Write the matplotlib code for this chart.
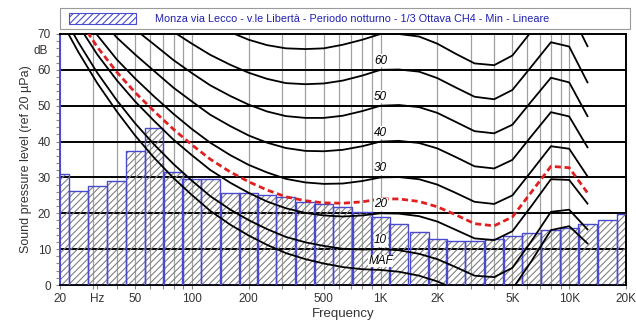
import matplotlib.pyplot as plt
from matplotlib.patches import Rectangle

# bande 1/3 ottava e livelli misurati (dB)
bande = [20, 25, 31.5, 40, 50, 63, 80, 100, 125, 160, 200, 250, 315, 400, 500, 630,
         800, 1000, 1250, 1600, 2000, 2500, 3150, 4000, 5000, 6300, 8000, 10000,
         12500, 16000, 20000]
livelli = [31.0, 26.1, 27.6, 29.0, 37.5, 43.7, 31.6, 29.6, 29.6, 25.7, 25.6, 25.1,
           24.6, 23.2, 22.6, 21.7, 20.4, 18.9, 17.0, 14.8, 12.8, 12.4, 12.3, 12.8,
           13.7, 14.6, 15.4, 16.0, 16.9, 18.0, 19.9]

# curve isofoniche, 20 Hz - 12.5 kHz
freq_iso = bande[:29]
maf = [74.3, 65.0, 56.3, 48.4, 41.7, 35.5, 29.8, 25.1, 20.7, 16.8, 13.8, 11.2, 8.9,
       7.2, 6.0, 5.0, 4.4, 4.2, 3.7, 2.6, 1.0, -1.2, -3.6, -3.9, -1.1, 6.6, 15.3,
       16.4, 11.6]
phon10 = [76.8, 67.7, 59.2, 51.5, 45.1, 39.2, 33.7, 29.1, 24.8, 21.0, 18.1, 15.6,
          13.4, 11.9, 10.9, 10.1, 9.9, 10.0, 9.7, 8.7, 7.2, 5.0, 2.6, 2.2, 4.8, 12.2,
          20.4, 21.0, 15.5]
phon20 = [81.3, 72.5, 64.3, 57.1, 51.2, 45.8, 40.5, 36.2, 32.1, 28.5, 25.7, 23.3,
          21.4, 20.1, 19.4, 19.1, 19.4, 20.0, 19.9, 19.2, 17.7, 15.4, 13.0, 12.5,
          15.0, 22.0, 29.5, 29.3, 22.7]
phon30 = [86.0, 77.6, 69.7, 62.9, 57.6, 52.6, 47.7, 43.5, 39.7, 36.2, 33.5, 31.4,
          29.6, 28.6, 28.2, 28.3, 29.0, 30.0, 30.1, 29.5, 28.0, 25.7, 23.2, 22.6,
          25.0, 31.7, 38.7, 38.0, 30.3]
phon40 = [91.0, 82.9, 75.4, 69.0, 64.3, 59.7, 55.0, 51.2, 47.5, 44.3, 41.7, 39.7,
          38.2, 37.4, 37.3, 37.7, 38.7, 40.0, 40.2, 39.6, 38.1, 35.7, 33.1, 32.5,
          34.9, 41.5, 48.2, 47.0, 38.4]
phon50 = [96.2, 88.5, 81.3, 75.4, 71.3, 67.1, 62.7, 59.1, 55.7, 52.7, 50.3, 48.4,
          47.1, 46.6, 46.6, 47.2, 48.5, 50.0, 50.2, 49.6, 48.0, 45.5, 42.9, 42.3,
          44.7, 51.2, 57.8, 56.5, 47.1]
phon60 = [101.7, 94.4, 87.6, 82.1, 78.6, 74.8, 70.6, 67.3, 64.2, 61.4, 59.2, 57.5,
          56.3, 56.0, 56.2, 57.0, 58.4, 60.0, 60.1, 59.5, 57.7, 55.1, 52.5, 51.8,
          54.4, 60.9, 67.7, 66.5, 56.5]
phon70 = [107.6, 100.7, 94.3, 89.2, 86.4, 82.8, 78.8, 75.8, 73.0, 70.5, 68.4, 66.9,
          66.0, 65.8, 66.0, 67.0, 68.4, 70.0, 70.0, 69.3, 67.3, 64.5, 61.8, 61.3,
          64.0, 70.7, 77.9, 76.9, 66.6]
# curva rossa tratteggiata (livello di sonorita' dello spettro)
sonora = [83.2, 74.5, 66.4, 59.4, 53.7, 48.5, 43.4, 39.1, 35.1, 31.5, 28.8, 26.5,
          24.6, 23.5, 22.9, 22.8, 23.2, 24.0, 24.0, 23.3, 21.8, 19.6, 17.1, 16.5,
          19.0, 25.9, 33.1, 32.7, 25.7]

etichette_curve = ['MAF', '10', '20', '30', '40', '50', '60']
tick_freq = [20, 31.5, 50, 100, 200, 500, 1000, 2000, 5000, 10000, 20000]
tick_lab = ['20', 'Hz', '50', '100', '200', '500', '1K', '2K', '5K', '10K', '20K']
titolo = 'Monza via Lecco - v.le Libertà - Periodo notturno - 1/3 Ottava CH4 - Min - Lineare'

plt.rcParams['font.family'] = ['Liberation Sans', 'DejaVu Sans']
plt.rcParams['hatch.linewidth'] = 0.8

blu = '#4a4ad0'
fig = plt.figure(figsize=(6.36, 3.27), dpi=100)
ax = fig.add_axes([60/636, 42/327, 566/636, 251/327])
ax.set_xscale('log')
ax.set_xlim(20, 20000)
ax.set_ylim(0, 70)

# griglia verticale (decadi log)
griglia = [m * d for d in (10, 100, 1000, 10000) for m in range(1, 10)]
griglia = [g for g in griglia if 20 <= g <= 20000]
ax.vlines(griglia, 0, 70, color='#a0a0a0', lw=0.9, zorder=1)
for y in range(10, 70, 10):
    ax.axhline(y, color='black', lw=1.4, zorder=1)

# barre 1/3 ottava
sx = [f * 2 ** (-1/6) for f in bande]
lar = [f * (2 ** (1/6) - 2 ** (-1/6)) for f in bande]
ax.bar(sx, livelli, width=lar, align='edge', facecolor='none', edgecolor='#808080',
       hatch='/////', linewidth=0, zorder=2)
ax.bar(sx, livelli, width=lar, align='edge', facecolor='none', edgecolor=blu,
       linewidth=1.0, zorder=3)

# isofoniche
for curva in (maf, phon10, phon20, phon30, phon40, phon50, phon60, phon70):
    ax.plot(freq_iso, curva, color='black', lw=1.3, zorder=4)
ax.plot(freq_iso, sonora, color='#e02020', lw=2.0, ls=(0, (2.2, 1.3)), zorder=5)

for lab, curva in zip(etichette_curve, (maf, phon10, phon20, phon30, phon40, phon50, phon60)):
    ax.text(1000, curva[17] + 2.5, lab, ha='center', va='center', fontsize=8.5,
            style='italic', zorder=6,
            bbox=dict(facecolor='white', edgecolor='none', pad=0.3))

# assi
ax.set_xticks(tick_freq)
ax.set_xticklabels(tick_lab)
ax.set_xticks(griglia, minor=True)
ax.set_xticklabels([], minor=True)
ax.set_yticks(range(0, 71, 10))
ax.set_yticks(range(0, 71, 2), minor=True)
ax.tick_params(axis='both', which='both', direction='out', colors='#888888',
               labelcolor='#333333', labelsize=8.5, length=3, width=0.8)
ax.tick_params(axis='x', which='major', pad=3)
for lato in ('top', 'right', 'bottom'):
    ax.spines[lato].set_color('black')
    ax.spines[lato].set_linewidth(1.4)
ax.spines['left'].set_color(blu)
ax.spines['left'].set_linewidth(1.4)

ax.set_xlabel('Frequency', fontsize=9.5, color='#333333', labelpad=2)
ax.set_ylabel('Sound pressure level (ref 20 µPa)', fontsize=9, color='#333333',
              labelpad=4)
ax.text(-0.035, 65.3/70, 'dB', transform=ax.transAxes, ha='center', va='center',
        fontsize=8.5, color='#333333')

# legenda in alto
fig.patches.append(Rectangle((60/636, 1 - 29/327), 570/636, 21/327, transform=fig.transFigure,
                             facecolor='white', edgecolor='#9a9a9a', lw=0.8))
fig.patches.append(Rectangle((69/636, 1 - 24/327), 67/636, 11/327, transform=fig.transFigure,
                             facecolor='none', edgecolor=blu, hatch='/////', lw=0.8))
fig.text(155/636, 1 - 18.5/327, titolo, ha='left', va='center', fontsize=7.8,
         color='#2020b0')

fig.savefig('out.png', dpi=100)
